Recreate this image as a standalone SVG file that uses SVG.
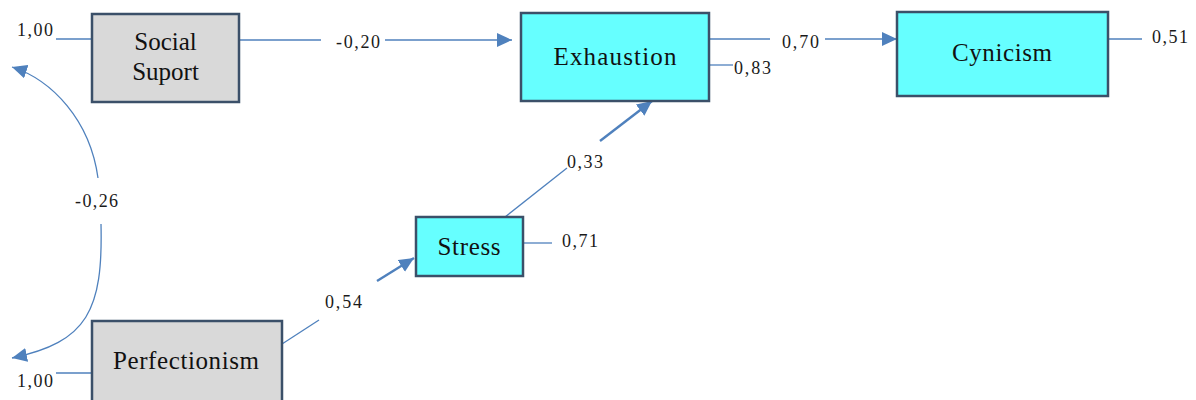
<svg xmlns="http://www.w3.org/2000/svg" width="1196" height="400" viewBox="0 0 1196 400">
  <style>
    .box { stroke: #3b5069; stroke-width: 2.5; }
    .exo { fill: #d9d9d9; }
    .endo { fill: #66ffff; }
    .name { font-family: "Liberation Serif", "Times New Roman", serif; font-size: 25px; fill: #111; text-anchor: middle; }
    .coef { font-family: "Liberation Serif", "Times New Roman", serif; font-size: 18px; fill: #1a1a1a; }
    .link { fill: none; stroke: #4f81bd; stroke-width: 1.3; }
    .bold { stroke-width: 2.4; }
  </style>
  <defs>
    <marker id="head" markerUnits="userSpaceOnUse" markerWidth="16" markerHeight="14" refX="15" refY="7" orient="auto">
      <path d="M0,0 L15,7 L0,14 z" fill="#4f81bd"/>
    </marker>
  </defs>
  <rect width="1196" height="400" fill="#ffffff"/>

  <g id="connectors">
    <!-- error / variance stubs -->
    <line class="link" x1="56" y1="39" x2="92" y2="39"/>
    <line class="link" x1="56" y1="373" x2="92" y2="373"/>
    <line class="link" x1="709" y1="65" x2="733" y2="65"/>
    <line class="link" x1="1108" y1="39" x2="1142" y2="39"/>
    <line class="link" x1="523" y1="243" x2="552" y2="243"/>
    <!-- Social Suport -> Exhaustion -->
    <line class="link" x1="239" y1="40" x2="321" y2="40"/>
    <line class="link" x1="385" y1="40" x2="512" y2="40" marker-end="url(#head)"/>
    <!-- Exhaustion -> Cynicism -->
    <line class="link" x1="709" y1="39" x2="770" y2="39"/>
    <line class="link" x1="825" y1="39" x2="897" y2="39" marker-end="url(#head)"/>
    <!-- Stress -> Exhaustion -->
    <line class="link" x1="505" y1="217" x2="567" y2="168"/>
    <line class="link bold" x1="600" y1="141" x2="652" y2="101" marker-end="url(#head)"/>
    <!-- Perfectionism -> Stress -->
    <line class="link" x1="282" y1="344" x2="319" y2="320"/>
    <line class="link bold" x1="377" y1="281" x2="414" y2="258" marker-end="url(#head)"/>
    <!-- covariance Social Suport <-> Perfectionism -->
    <path class="link" d="M98,178 C90,120 52,80 12,67" marker-end="url(#head)"/>
    <path class="link" d="M101,224 C103,310 88,342 12,358" marker-end="url(#head)"/>

    <text class="coef" x="17" y="36" textLength="36">1,00</text>
    <text class="coef" x="17" y="387" textLength="36">1,00</text>
    <text class="coef" x="336" y="48" textLength="44">-0,20</text>
    <text class="coef" x="782" y="48" textLength="37">0,70</text>
    <text class="coef" x="734" y="74" textLength="37">0,83</text>
    <text class="coef" x="1152" y="43" textLength="36">0,51</text>
    <text class="coef" x="567" y="168" textLength="36">0,33</text>
    <text class="coef" x="562" y="247" textLength="36">0,71</text>
    <text class="coef" x="325" y="308" textLength="37">0,54</text>
    <text class="coef" x="75" y="207" textLength="43">-0,26</text>
  </g>

  <g id="social-suport">
    <rect class="box exo" x="92" y="14" width="147" height="88"/>
    <text class="name" x="165.5" y="50">Social</text>
    <text class="name" x="165.5" y="80">Suport</text>
  </g>

  <g id="perfectionism">
    <rect class="box exo" x="92" y="321" width="190" height="90"/>
    <text class="name" x="186" y="369" textLength="146">Perfectionism</text>
  </g>

  <g id="stress">
    <rect class="box endo" x="416" y="217" width="107" height="59"/>
    <text class="name" x="469" y="255" textLength="63">Stress</text>
  </g>

  <g id="exhaustion">
    <rect class="box endo" x="521" y="13" width="188" height="88"/>
    <text class="name" x="615" y="65" textLength="123">Exhaustion</text>
  </g>

  <g id="cynicism">
    <rect class="box endo" x="897" y="12" width="211" height="84"/>
    <text class="name" x="1002" y="61" textLength="100">Cynicism</text>
  </g>
</svg>
